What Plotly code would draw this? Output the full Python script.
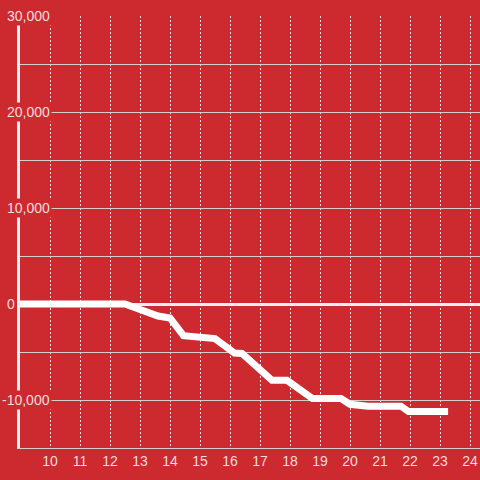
import plotly.graph_objects as go

# Data
x_vals = [8.9, 12.5, 13.6, 14.0, 14.45, 15.0, 15.5, 16.15, 16.4, 17.4, 17.9,
          18.75, 19.7, 20.0, 20.6, 21.7, 21.95, 23.27]
y_vals = [0, 0, -1250, -1450, -3300, -3500, -3600, -5100, -5150, -7950, -7950,
          -9850, -9850, -10450, -10650, -10650, -11200, -11200]

x_ticks = list(range(10, 25))
y_label_vals = [30000, 20000, 10000, 0, -10000]
y_label_text = ["30,000", "20,000", "10,000", "0", "-10,000"]

BG = "#cc2a2f"
TXT = "#f5dcdc"
FONT = "Liberation Sans, Arial, sans-serif"

fig = go.Figure()
fig.add_trace(go.Scatter(
    x=x_vals, y=y_vals, mode="lines",
    line=dict(color="white", width=7, shape="linear"),
    hoverinfo="skip", showlegend=False,
))

annotations = []
for v, t in zip(y_label_vals, y_label_text):
    right_px = 17 if v == 0 else 52
    annotations.append(dict(
        x=0, xref="paper", y=v, yref="y",
        text=t, showarrow=False, xanchor="right", yanchor="middle",
        xshift=right_px - 20, bgcolor=BG, borderpad=1,
        font=dict(family=FONT, size=14, color=TXT),
    ))

fig.update_layout(
    width=480, height=480,
    paper_bgcolor=BG, plot_bgcolor=BG,
    margin=dict(l=20, r=0, t=16, b=32),
    showlegend=False,
    annotations=annotations,
    font=dict(family=FONT, size=14, color=TXT),
    xaxis=dict(
        range=[9, 24.3333], tickvals=x_ticks, ticktext=[str(v) for v in x_ticks],
        showgrid=True, gridcolor="#e8e0e0", griddash="2px,2px", gridwidth=1,
        showline=True, linecolor="#d6cfcf", linewidth=1,
        zeroline=False, ticks="", tickfont=dict(family=FONT, size=14, color=TXT),
        fixedrange=True,
    ),
    yaxis=dict(
        range=[-15000, 30000], dtick=5000, tick0=0,
        showgrid=True, gridcolor="#d6cfcf", gridwidth=1,
        showticklabels=False, ticks="",
        showline=True, linecolor="#f4eeee", linewidth=3,
        zeroline=True, zerolinecolor="#f4eeee", zerolinewidth=3,
        fixedrange=True,
    ),
)

fig.write_html("out.html", config={"displayModeBar": False},
               post_script="document.body.style.margin='0';document.body.style.background='%s';" % BG)
